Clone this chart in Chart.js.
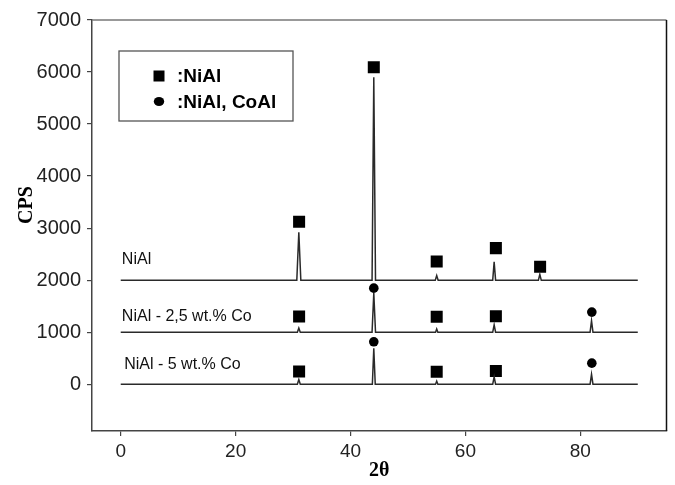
<!DOCTYPE html>
<html>
<head>
<meta charset="utf-8">
<script src="https://cdn.jsdelivr.net/npm/chart.js@4.4.1/dist/chart.umd.min.js"></script>
<style>
  html, body { margin: 0; padding: 0; background: #ffffff; }
  #wrap { width: 675px; height: 485px; position: relative; }
</style>
</head>
<body>
<div id="wrap"><canvas id="c"></canvas></div>
<script>
// ---- data ----
const xTickValues = [0, 20, 40, 60, 80];
const yTickValues = [0, 1000, 2000, 3000, 4000, 5000, 6000, 7000];

const seriesNames = ['NiAl', 'NiAl - 2,5 wt.% Co', 'NiAl - 5 wt.% Co'];

const niAlX = [0, 30.65, 31.0, 31.35, 43.75, 44.05, 44.35, 54.75, 55.0, 55.25, 64.75, 65.0, 65.25, 72.7, 72.95, 73.2, 90];
const niAlY = [2000, 2000, 2920, 2000, 2000, 5900, 2000, 2000, 2090, 2000, 2000, 2350, 2000, 2000, 2110, 2000, 2000];

const co25X = [0, 30.75, 31.0, 31.25, 43.75, 44.05, 44.35, 54.8, 55.0, 55.2, 64.75, 65.0, 65.25, 81.7, 81.95, 82.2, 90];
const co25Y = [1000, 1000, 1080, 1000, 1000, 1750, 1000, 1000, 1060, 1000, 1000, 1140, 1000, 1000, 1220, 1000, 1000];

const co5X = [0, 30.75, 31.0, 31.25, 43.8, 44.05, 44.3, 54.8, 55.0, 55.2, 64.75, 65.0, 65.25, 81.7, 81.95, 82.2, 90];
const co5Y = [0, 0, 90, 0, 0, 690, 0, 0, 60, 0, 0, 140, 0, 0, 190, 0, 0];

const squareX = [31.05, 44.05, 55.0, 65.3, 73.0, 31.05, 55.0, 65.3, 31.05, 55.0, 65.3];
const squareY = [3120, 6090, 2360, 2615, 2255, 1300, 1295, 1305, 245, 240, 255];

const circleX = [44.05, 82.0, 44.05, 82.0];
const circleY = [1846, 1385, 815, 404];

const legendLabels = [':NiAl', ':NiAl, CoAl'];
const axisTitles = { x: '2\u03B8', y: 'CPS' };

// label anchors (data coordinates) for the series names
const labelAnchorX = [0.2, 0.2, 0.6];
const labelAnchorY = [2400, 1305, 385];

// ---- build datasets ----
const toPts = (xs, ys) => xs.map((v, i) => ({ x: v, y: ys[i] }));
const lineStyle = { showLine: true, borderColor: '#2a2a2a', borderWidth: 1.5, pointRadius: 0, tension: 0, fill: false };

const datasets = [
  Object.assign({ label: seriesNames[0], data: toPts(niAlX, niAlY) }, lineStyle),
  Object.assign({ label: seriesNames[1], data: toPts(co25X, co25Y) }, lineStyle),
  Object.assign({ label: seriesNames[2], data: toPts(co5X, co5Y) }, lineStyle),
  { label: legendLabels[0], data: toPts(squareX, squareY), showLine: false, pointStyle: 'rect',
    pointRadius: 8.5, backgroundColor: '#000', borderColor: '#000', borderWidth: 0 },
  { label: legendLabels[1], data: toPts(circleX, circleY), showLine: false, pointStyle: 'circle',
    pointRadius: 4.8, backgroundColor: '#000', borderColor: '#000', borderWidth: 0 }
];

const SANS = "'Liberation Sans', Arial, sans-serif";
const SERIF = "'Liberation Serif', 'Times New Roman', serif";

const decor = {
  id: 'decor',
  afterDraw(chart) {
    const { ctx, chartArea: a, scales } = chart;
    const xs = scales.x, ys = scales.y;
    ctx.save();
    // top & right frame
    ctx.lineWidth = 1.5;
    ctx.strokeStyle = '#777';
    ctx.beginPath(); ctx.moveTo(a.left, a.top); ctx.lineTo(a.right, a.top); ctx.stroke();
    ctx.strokeStyle = '#111';
    ctx.beginPath(); ctx.moveTo(a.right, a.top); ctx.lineTo(a.right, a.bottom); ctx.stroke();

    // series name labels
    ctx.fillStyle = '#111';
    ctx.font = '16px ' + SANS;
    ctx.textAlign = 'left';
    ctx.textBaseline = 'middle';
    seriesNames.forEach((n, i) => {
      ctx.fillText(n, xs.getPixelForValue(labelAnchorX[i]), ys.getPixelForValue(labelAnchorY[i]));
    });

    // legend box
    const bx = a.left + 27, by = a.top + 31, bw = 174, bh = 70;
    ctx.lineWidth = 1.3;
    ctx.strokeStyle = '#555';
    ctx.strokeRect(bx, by, bw, bh);
    ctx.fillStyle = '#000';
    const mx = bx + 40;
    const r1 = by + 25, r2 = by + 50.5;
    ctx.fillRect(mx - 5.5, r1 - 5.5, 11, 11);
    ctx.beginPath(); ctx.ellipse(mx, r2, 5.2, 4.6, 0, 0, Math.PI * 2); ctx.fill();
    ctx.font = 'bold 19px ' + SANS;
    ctx.fillText(legendLabels[0], bx + 58, r1 + 1);
    ctx.fillText(legendLabels[1], bx + 58, r2 + 1);

    // axis titles
    ctx.font = 'bold 20px ' + SERIF;
    ctx.textAlign = 'center';
    ctx.fillText(axisTitles.x, (a.left + a.right) / 2, 471);
    ctx.save();
    ctx.translate(27, 205);
    ctx.rotate(-Math.PI / 2);
    ctx.fillText(axisTitles.y, 0, 0);
    ctx.restore();
    ctx.restore();
  }
};

new Chart(document.getElementById('c'), {
  type: 'scatter',
  data: { datasets },
  options: {
    responsive: true,
    maintainAspectRatio: false,
    animation: false,
    layout: { padding: { top: 20, right: 8, bottom: 0, left: 0 } },
    plugins: { legend: { display: false }, tooltip: { enabled: false }, title: { display: false } },
    scales: {
      x: {
        type: 'linear', min: -5, max: 95,
        afterFit: s => { s.height = 54; },
        afterBuildTicks: s => { s.ticks = xTickValues.map(v => ({ value: v })); },
        grid: { drawOnChartArea: false, drawTicks: true, tickLength: 5, color: '#444', lineWidth: 1.2 },
        border: { display: true, color: '#444', width: 1.5 },
        ticks: { padding: 4, color: '#222', font: { family: SANS, size: 19 }, maxRotation: 0,
                 callback: v => String(v) }
      },
      y: {
        type: 'linear', min: -900, max: 7000,
        afterFit: s => { s.width = 92; },
        afterBuildTicks: s => { s.ticks = yTickValues.map(v => ({ value: v })); },
        grid: { drawOnChartArea: false, drawTicks: true, tickLength: 5, color: '#444', lineWidth: 1.2 },
        border: { display: true, color: '#444', width: 1.5 },
        ticks: { padding: 6, color: '#222', font: { family: SANS, size: 20 }, callback: v => String(v) }
      }
    }
  },
  plugins: [decor]
});
</script>
</body>
</html>
